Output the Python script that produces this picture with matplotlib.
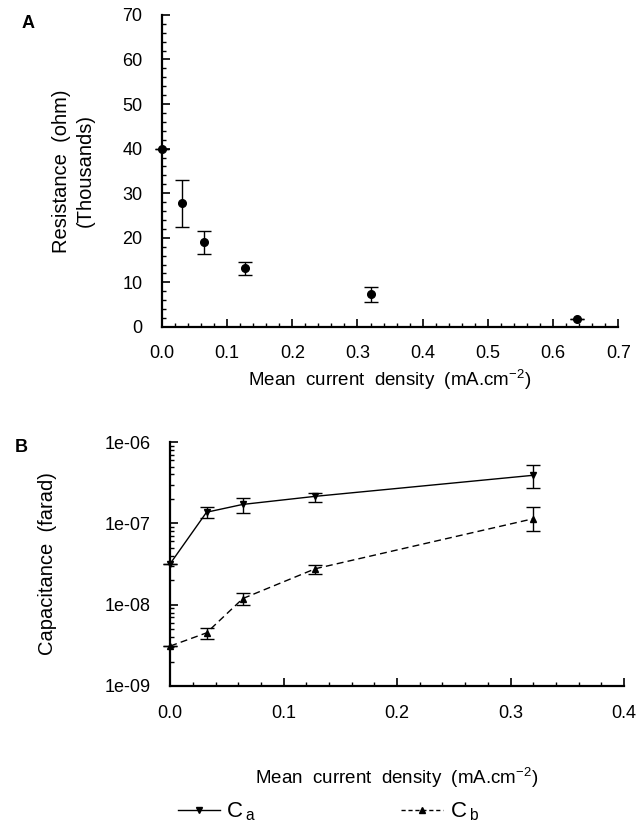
import matplotlib
matplotlib.use("Agg")
import matplotlib.pyplot as plt
from matplotlib.ticker import MultipleLocator, FixedLocator, FixedFormatter, LogLocator, NullFormatter
from matplotlib.lines import Line2D
import numpy as np

plt.rcParams['font.family'] = ['Liberation Sans', 'DejaVu Sans']
plt.rcParams['mathtext.fontset'] = 'custom'
plt.rcParams['mathtext.rm'] = 'Liberation Sans'
plt.rcParams['mathtext.it'] = 'Liberation Sans'

# Panel A data
a_x = [0.0, 0.031, 0.064, 0.128, 0.32, 0.637]
a_y = [40.0, 27.8, 19.0, 13.2, 7.4, 1.8]
a_err_lo = [0.0, 5.4, 2.6, 1.5, 1.8, 0.0]
a_err_hi = [0.0, 5.2, 2.5, 1.4, 1.5, 0.0]

# Panel B data
b_x = [0.0, 0.032, 0.064, 0.128, 0.32]
ca = [3.2e-8, 1.37e-7, 1.71e-7, 2.15e-7, 3.9e-7]
ca_lo = [3.2e-8, 1.15e-7, 1.33e-7, 1.81e-7, 2.7e-7]
ca_hi = [3.2e-8, 1.57e-7, 2.03e-7, 2.34e-7, 5.2e-7]
cb = [3.1e-9, 4.5e-9, 1.19e-8, 2.77e-8, 1.14e-7]
cb_lo = [3.1e-9, 3.8e-9, 1.0e-8, 2.4e-8, 8.0e-8]
cb_hi = [3.1e-9, 5.2e-9, 1.4e-8, 3.1e-8, 1.57e-7]

a_xticks = [0.0, 0.1, 0.2, 0.3, 0.4, 0.5, 0.6, 0.7]
a_yticks = [0, 10, 20, 30, 40, 50, 60, 70]
b_xticks = [0.0, 0.1, 0.2, 0.3, 0.4]
b_yticks = [1e-9, 1e-8, 1e-7, 1e-6]
b_yticklabels = ['1e-09', '1e-08', '1e-07', '1e-06']

xlabel = 'Mean  current  density  (mA.cm$^{-2}$)'

fig = plt.figure(figsize=(6.4, 8.27), dpi=100)

def style(ax):
    for s in ['top', 'right']:
        ax.spines[s].set_visible(False)
    for s in ['left', 'bottom']:
        ax.spines[s].set_linewidth(1.6)
    ax.tick_params(which='major', direction='in', length=6, width=1.2, labelsize=13, pad=14)
    ax.tick_params(which='minor', direction='in', length=3, width=1.0)

# ---- Panel A ----
axA = fig.add_axes([0.253, 0.6046, 0.713, 0.3774])
style(axA)
axA.tick_params(axis='x', which='major', pad=13)
axA.errorbar(a_x, a_y, yerr=[a_err_lo, a_err_hi], fmt='o', color='black',
             ms=5.5, capsize=5, elinewidth=1.0, capthick=1.0, clip_on=False, zorder=5)
axA.set_xlim(0, 0.7)
axA.set_ylim(0, 70)
axA.xaxis.set_major_locator(FixedLocator(a_xticks))
axA.xaxis.set_major_formatter(FixedFormatter(['%.1f' % v for v in a_xticks]))
axA.xaxis.set_minor_locator(MultipleLocator(0.02))
axA.yaxis.set_major_locator(FixedLocator(a_yticks))
axA.yaxis.set_major_formatter(FixedFormatter([str(v) for v in a_yticks]))
axA.yaxis.set_minor_locator(MultipleLocator(2))
axA.set_ylabel('Resistance  (ohm)\n(Thousands)', fontsize=14.5, labelpad=20, linespacing=1.3)
axA.set_xlabel(xlabel, fontsize=13.5, labelpad=4)
fig.text(0.033, 0.972, 'A', fontsize=13, fontweight='bold', ha='left', va='center')

# ---- Panel B ----
axB = fig.add_axes([0.266, 0.1705, 0.709, 0.295])
style(axB)
axB.set_yscale('log')
axB.errorbar(b_x, ca, yerr=[np.array(ca) - np.array(ca_lo), np.array(ca_hi) - np.array(ca)],
             fmt='-', marker='v', color='black', ms=5, lw=1.0, capsize=5,
             elinewidth=1.0, capthick=1.0, clip_on=False, zorder=5)
axB.errorbar(b_x, cb, yerr=[np.array(cb) - np.array(cb_lo), np.array(cb_hi) - np.array(cb)],
             fmt='--', marker='^', color='black', ms=5, lw=1.0, capsize=5,
             elinewidth=1.0, capthick=1.0, clip_on=False, zorder=5, dashes=(5, 3))
axB.set_xlim(0, 0.4)
axB.set_ylim(1e-9, 1e-6)
axB.xaxis.set_major_locator(FixedLocator(b_xticks))
axB.xaxis.set_major_formatter(FixedFormatter(['%.1f' % v for v in b_xticks]))
axB.xaxis.set_minor_locator(MultipleLocator(0.02))
axB.yaxis.set_major_locator(FixedLocator(b_yticks))
axB.yaxis.set_major_formatter(FixedFormatter(b_yticklabels))
axB.yaxis.set_minor_locator(LogLocator(base=10, subs=np.arange(2, 10)))
axB.yaxis.set_minor_formatter(NullFormatter())
axB.set_ylabel('Capacitance  (farad)', fontsize=14.5, labelpad=34)
axB.set_xlabel(xlabel, fontsize=13.5, labelpad=31)
fig.text(0.023, 0.459, 'B', fontsize=13, fontweight='bold', ha='left', va='center')

handles = [Line2D([], [], color='black', lw=1.0, marker='v', ms=5),
           Line2D([], [], color='black', lw=1.0, ls='--', marker='^', ms=5, dashes=(3, 2))]
fig.legend(handles, ['C$\\,_\\mathrm{a}$', 'C$\\,_\\mathrm{b}$'], loc='center',
           bbox_to_anchor=(0.513, 0.018), ncol=2, frameon=False, fontsize=16,
           handlelength=1.9, columnspacing=6.5, handletextpad=0.3)

fig.savefig('out.png', dpi=100)
